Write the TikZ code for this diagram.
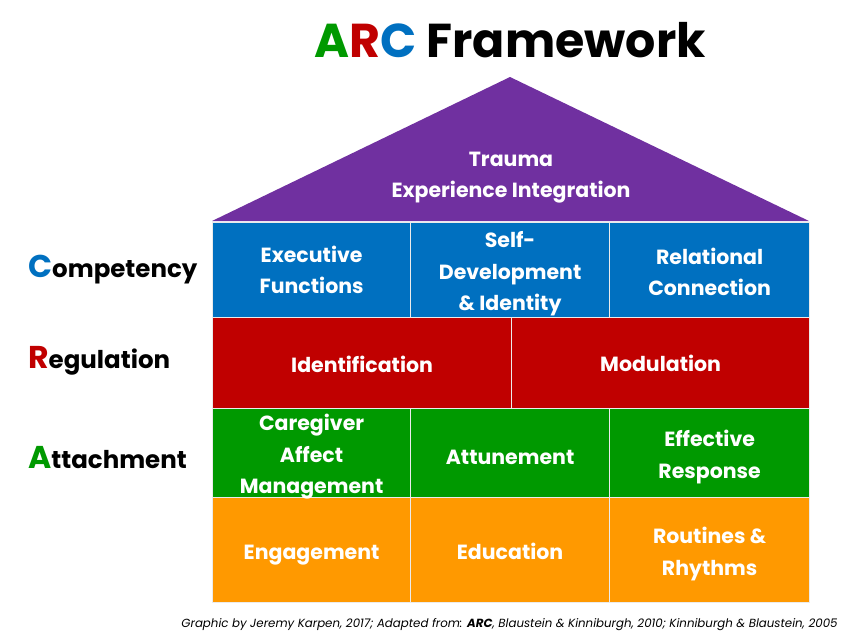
\documentclass[tikz,border=0pt]{standalone}
\usepackage{fontspec}
\setmainfont{Poppins}
\definecolor{arcblue}{HTML}{0070C0}
\definecolor{arcred}{HTML}{C00000}
\definecolor{arcgreen}{HTML}{009900}
\definecolor{arcorange}{HTML}{FF9900}
\definecolor{arcpurple}{HTML}{7030A0}
\newcommand{\initletter}[2]{{\fontsize{31.5}{24}\selectfont\textcolor{#1}{#2}}}
\begin{document}
\begin{tikzpicture}[x=1pt,y=-1pt,
  cell/.style={anchor=north west, draw=white!92!black, line width=1.2pt, inner sep=0pt},
  txt/.style={inner sep=0pt, text=white, align=center, font=\fontsize{20.5}{31.5}\selectfont\bfseries},
  side/.style={anchor=base west, inner sep=0pt, font=\fontsize{24.5}{26}\selectfont\bfseries}]
\useasboundingbox (0,0) rectangle (867,640);
% title
\node[anchor=base, inner sep=0pt, font=\fontsize{47.5}{50}\selectfont\bfseries] (title) at (510,57)
  {\textcolor{arcgreen}{A}\textcolor{arcred}{R}\textcolor{arcblue}{C} Framework};
% roof
\coordinate (rl) at (212,221);
\coordinate (rt) at (510,77);
\coordinate (rr) at (809,221);
\fill[arcpurple] (rl) -- (rt) -- (rr) -- cycle;
\node[txt] (roof) at (511,177.5) {Trauma\\Experience Integration};
% competency row
\node[cell, fill=arcblue, minimum width=198pt, minimum height=95pt] (ef) at (212,222) {};
\node[cell, fill=arcblue, minimum width=199pt, minimum height=95pt] (sd) at (410,222) {};
\node[cell, fill=arcblue, minimum width=200pt, minimum height=95pt] (rc) at (609,222) {};
% regulation row
\node[cell, fill=arcred, minimum width=299pt, minimum height=91pt] (id) at (212,317) {};
\node[cell, fill=arcred, minimum width=298pt, minimum height=91pt] (mo) at (511,317) {};
% attachment row
\node[cell, fill=arcgreen, minimum width=198pt, minimum height=89pt] (ca) at (212,408) {};
\node[cell, fill=arcgreen, minimum width=199pt, minimum height=89pt] (at) at (410,408) {};
\node[cell, fill=arcgreen, minimum width=200pt, minimum height=89pt] (er) at (609,408) {};
% foundation row
\node[cell, fill=arcorange, minimum width=198pt, minimum height=105pt] (en) at (212,497) {};
\node[cell, fill=arcorange, minimum width=199pt, minimum height=105pt] (ed) at (410,497) {};
\node[cell, fill=arcorange, minimum width=200pt, minimum height=105pt] (rh) at (609,497) {};
% cell texts
\node[txt] (tef) at ([yshift=0pt]ef.center) {Executive\\Functions};
\node[txt] (tsd) at ([yshift=-4pt]sd.center) {Self-\\Development\\\& Identity};
\node[txt] (trc) at ([yshift=-2pt]rc.center) {Relational\\Connection};
\node[txt] (tid) at ([yshift=-1pt]id.center) {Identification};
\node[txt] (tmo) at ([yshift=0pt]mo.center) {Modulation};
\node[txt] (tca) at ([yshift=-4pt]ca.center) {Caregiver\\Affect\\Management};
\node[txt] (tat) at ([yshift=-4pt]at.center) {Attunement};
\node[txt] (ter) at ([yshift=-4pt]er.center) {Effective\\Response};
\node[txt] (ten) at ([yshift=-5pt]en.center) {Engagement};
\node[txt] (ted) at ([yshift=-1pt]ed.center) {Education};
\node[txt] (trh) at ([yshift=-4pt]rh.center) {Routines \&\\Rhythms};
% side labels
\node[side] (lc) at (28,277) {\initletter{arcblue}{C}ompetency};
\node[side] (lr) at (28,368) {\initletter{arcred}{R}egulation};
\node[side] (la) at (28,468) {\initletter{arcgreen}{A}ttachment};
% footer
\node[anchor=base, inner sep=0pt, font=\fontsize{11.8}{13}\selectfont\itshape] (foot) at (509.5,627)
  {Graphic by Jeremy Karpen, 2017; Adapted from: \textbf{ARC}, Blaustein \& Kinniburgh, 2010; Kinniburgh \& Blaustein, 2005};
\end{tikzpicture}
\end{document}
